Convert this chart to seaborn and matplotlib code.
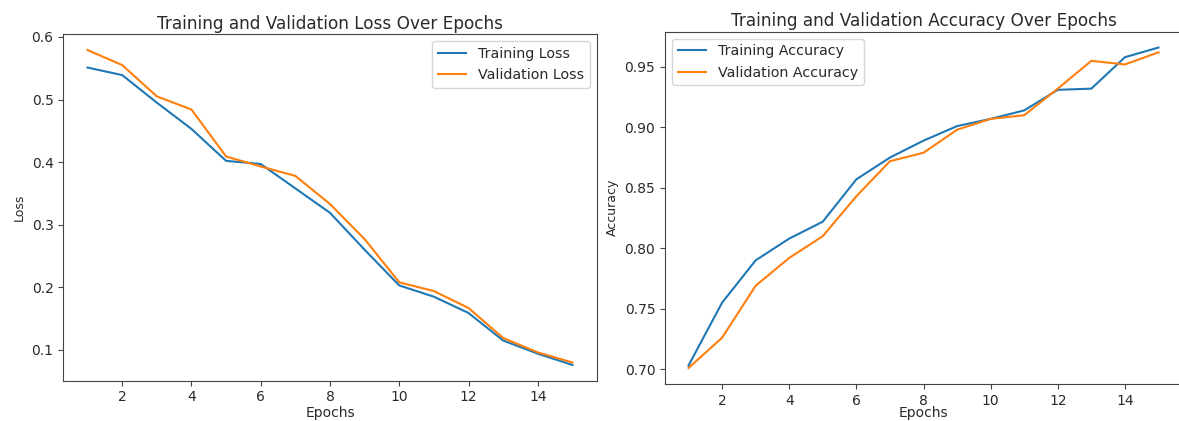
import matplotlib
matplotlib.use("Agg")
import matplotlib.pyplot as plt
import seaborn as sns

epochs = list(range(1, 16))
train_loss = [0.551, 0.539, 0.495, 0.453, 0.402, 0.397, 0.358, 0.319, 0.260, 0.203, 0.185, 0.159, 0.115, 0.094, 0.076]
val_loss = [0.579, 0.555, 0.505, 0.484, 0.409, 0.393, 0.378, 0.333, 0.277, 0.208, 0.194, 0.167, 0.119, 0.096, 0.080]
train_acc = [0.703, 0.755, 0.790, 0.808, 0.822, 0.857, 0.875, 0.889, 0.901, 0.907, 0.914, 0.931, 0.932, 0.958, 0.966]
val_acc = [0.701, 0.726, 0.769, 0.792, 0.810, 0.843, 0.872, 0.879, 0.898, 0.907, 0.910, 0.932, 0.955, 0.952, 0.962]

BLUE = "#1f77b4"
ORANGE = "#ff7f0e"
TEXT = "#2a2a2a"
SPINE = "#444444"

plt.rcParams.update({
    "text.color": TEXT,
    "axes.labelcolor": TEXT,
    "xtick.color": SPINE,
    "ytick.color": SPINE,
    "xtick.labelcolor": TEXT,
    "ytick.labelcolor": TEXT,
    "axes.edgecolor": SPINE,
})

W, H = 1179, 421
fig = plt.figure(figsize=(W / 100, H / 100), dpi=100)


def px(l, t, r, b):
    return [l / W, 1 - b / H, (r - l) / W, (b - t) / H]


ax1 = fig.add_axes(px(63.3, 34.3, 596.7, 380.7))
ax2 = fig.add_axes(px(665, 31.5, 1182, 384))

sns.lineplot(x=epochs, y=train_loss, ax=ax1, color=BLUE, label="Training Loss")
sns.lineplot(x=epochs, y=val_loss, ax=ax1, color=ORANGE, label="Validation Loss")
ax1.set_title("Training and Validation Loss Over Epochs", fontsize=12.2, pad=4)
ax1.set_xlabel("Epochs", fontsize=10, labelpad=1)
ax1.set_ylabel("Loss", fontsize=9)
ax1.legend(loc="upper right", fontsize=10.3)

sns.lineplot(x=epochs, y=train_acc, ax=ax2, color=BLUE, label="Training Accuracy")
sns.lineplot(x=epochs, y=val_acc, ax=ax2, color=ORANGE, label="Validation Accuracy")
ax2.set_title("Training and Validation Accuracy Over Epochs", fontsize=12.2, pad=4)
ax2.set_xlabel("Epochs", fontsize=10, labelpad=-1)
ax2.set_ylabel("Accuracy", fontsize=9)
ax2.legend(loc="upper left", fontsize=10.3)

for ax in (ax1, ax2):
    ax.tick_params(labelsize=10)

fig.savefig("out.png", dpi=100)
